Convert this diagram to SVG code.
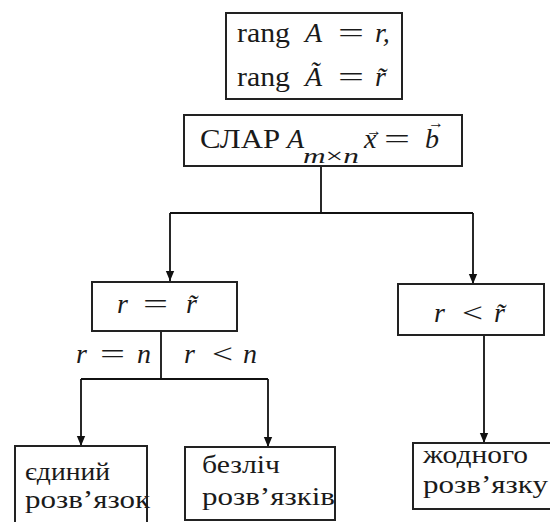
<svg xmlns="http://www.w3.org/2000/svg" width="550" height="522" viewBox="0 0 550 522">
<style>
.t{font-family:"Liberation Serif","DejaVu Serif",serif;fill:#1a1a1a;font-size:28px}
.i{font-style:italic}
.s{font-size:25px}
.box{fill:#fff;stroke:#222;stroke-width:2}
.ln{stroke:#111;stroke-width:1.8;fill:none}
.ac{font-size:16px;font-style:normal}
</style>
<defs>
<marker id="a" markerUnits="userSpaceOnUse" markerWidth="10" markerHeight="12" refX="12" refY="5" orient="auto" viewBox="0 0 12 10">
<path d="M0 0 L12 5 L0 10 Z" fill="#111"/>
</marker>
</defs>
<rect width="550" height="522" fill="#fff"/>

<g id="connectors">
<path class="ln" d="M321 166 V213"/>
<path class="ln" d="M170 213 H473"/>
<path class="ln" d="M170 213 V281" marker-end="url(#a)"/>
<path class="ln" d="M473 213 V284" marker-end="url(#a)"/>
<path class="ln" d="M161 331 V379"/>
<path class="ln" d="M81 379 H268"/>
<path class="ln" d="M81 379 V446" marker-end="url(#a)"/>
<path class="ln" d="M268 379 V447" marker-end="url(#a)"/>
<path class="ln" d="M484 335 V443" marker-end="url(#a)"/>
</g>

<g id="rank">
<rect class="box" x="226" y="13" width="176" height="86"/>
<text class="t" y="42"><tspan x="237" textLength="53" lengthAdjust="spacingAndGlyphs">rang</tspan><tspan class="i" x="305">A</tspan><tspan x="338" textLength="26" lengthAdjust="spacingAndGlyphs">=</tspan><tspan class="i" x="375">r,</tspan></text>
<text class="t" y="86"><tspan x="237" textLength="53" lengthAdjust="spacingAndGlyphs">rang</tspan><tspan class="i" x="305">Ã</tspan><tspan x="338" textLength="26" lengthAdjust="spacingAndGlyphs">=</tspan><tspan class="i" x="375">r̃</tspan></text>
</g>

<g id="slar">
<rect class="box" x="184" y="115" width="278" height="51"/>
<text class="t" y="148"><tspan x="200" textLength="80" lengthAdjust="spacingAndGlyphs">СЛАР</tspan><tspan class="i" x="287">A</tspan><tspan x="303" y="163" style="font-size:22px" textLength="56" lengthAdjust="spacingAndGlyphs"><tspan class="i">m</tspan>×<tspan class="i">n</tspan></tspan><tspan class="i" x="364" y="148">x</tspan><tspan class="ac" x="366" y="136">→</tspan><tspan x="384" y="148" textLength="26" lengthAdjust="spacingAndGlyphs">=</tspan><tspan class="i" x="425">b</tspan><tspan class="ac" x="428" y="128">→</tspan></text>
</g>

<g id="eq">
<rect class="box" x="92" y="282" width="145" height="49"/>
<text class="t" y="313"><tspan class="i" x="117">r</tspan><tspan x="143" textLength="25" lengthAdjust="spacingAndGlyphs">=</tspan><tspan class="i" x="186">r̃</tspan></text>
</g>

<g id="lt">
<rect class="box" x="398" y="284" width="146" height="51"/>
<text class="t" y="322"><tspan class="i" x="434">r</tspan><tspan x="462" textLength="21" lengthAdjust="spacingAndGlyphs">&lt;</tspan><tspan class="i" x="494">r̃</tspan></text>
</g>

<g id="labels">
<text class="t" y="363"><tspan class="i" x="76">r</tspan><tspan x="100" textLength="25" lengthAdjust="spacingAndGlyphs">=</tspan><tspan class="i" x="137">n</tspan></text>
<text class="t" y="363"><tspan class="i" x="184">r</tspan><tspan x="212" textLength="21" lengthAdjust="spacingAndGlyphs">&lt;</tspan><tspan class="i" x="243">n</tspan></text>
</g>

<g id="unique">
<rect class="box" x="15" y="446" width="132" height="90"/>
<text class="t s" x="25" y="480" textLength="85" lengthAdjust="spacingAndGlyphs">єдиний</text>
<text class="t s" x="25" y="508" textLength="125" lengthAdjust="spacingAndGlyphs">розв’язок</text>
</g>

<g id="infinite">
<rect class="box" x="185" y="447" width="150" height="73"/>
<text class="t s" x="202" y="473" textLength="78" lengthAdjust="spacingAndGlyphs">безліч</text>
<text class="t s" x="202" y="505" textLength="133" lengthAdjust="spacingAndGlyphs">розв’язків</text>
</g>

<g id="none">
<rect class="box" x="413" y="443" width="150" height="66"/>
<text class="t s" x="423" y="463" textLength="105" lengthAdjust="spacingAndGlyphs">жодного</text>
<text class="t s" x="423" y="493" textLength="125" lengthAdjust="spacingAndGlyphs">розв’язку</text>
</g>
</svg>
